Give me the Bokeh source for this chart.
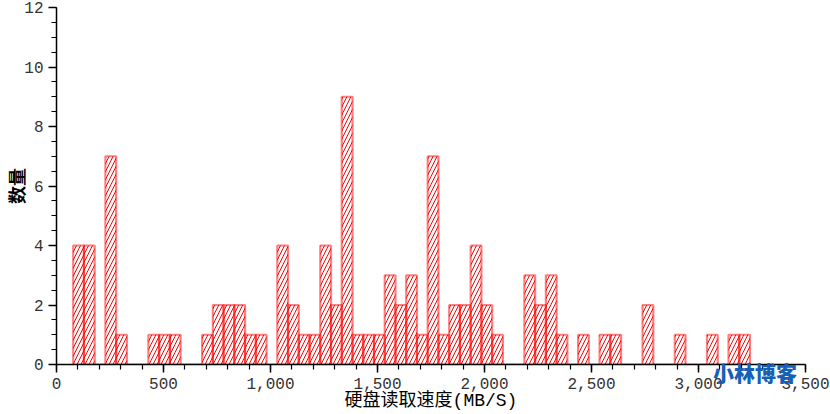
import numpy as np
from bokeh.plotting import figure
from bokeh.models import Range1d, SingleIntervalTicker, NumeralTickFormatter, ColumnDataSource, Div
from bokeh.embed import file_html
from bokeh.resources import INLINE

# histogram of disk read speeds (MB/S), 63 bins
bin_start = 78.0
bin_width = 50.2
counts = [4, 4, 0, 7, 1, 0, 0, 1, 1, 1, 0, 0, 1, 2, 2, 2, 1, 1, 0, 4, 2,
          1, 1, 4, 2, 9, 1, 1, 1, 3, 2, 3, 1, 7, 1, 2, 2, 4, 2, 1, 0, 0,
          3, 2, 3, 1, 0, 1, 0, 1, 1, 0, 0, 2, 0, 0, 1, 0, 0, 1, 0, 1, 1]
x_title = "硬盘读取速度(MB/S)"
y_title = "数量"
watermark = "小林博客"

edges = bin_start + bin_width * np.arange(len(counts) + 1)
src = ColumnDataSource(dict(left=edges[:-1], right=edges[1:],
                            top=counts, bottom=[0] * len(counts)))

p = figure(width=830, height=414, output_backend="svg", toolbar_location=None,
           x_range=Range1d(0, 3500), y_range=Range1d(0, 12),
           min_border_left=55, min_border_right=25, min_border_top=7,
           min_border_bottom=50)
p.outline_line_color = None
p.xgrid.visible = False
p.ygrid.visible = False

p.quad(left="left", right="right", top="top", bottom="bottom", source=src,
       fill_alpha=0, line_color="red", line_alpha=0.5, line_width=2.2,
       hatch_pattern="/", hatch_color="red", hatch_scale=8, hatch_weight=1)

p.xaxis.ticker = SingleIntervalTicker(interval=500, num_minor_ticks=5)
p.yaxis.ticker = SingleIntervalTicker(interval=2, num_minor_ticks=4)
p.xaxis.formatter = NumeralTickFormatter(format="0,0")
for ax in (p.xaxis, p.yaxis):
    ax.axis_line_width = 1.5
    ax.axis_line_color = "black"
    ax.major_tick_line_width = 1.5
    ax.major_tick_in = 0
    ax.major_tick_out = 8
    ax.minor_tick_in = 0
    ax.minor_tick_out = 5
    ax.minor_tick_line_width = 1.2
    ax.major_label_text_font = "Liberation Mono"
    ax.major_label_text_font_size = "16px"
    ax.major_label_text_color = "#333333"
    ax.axis_label_text_color = "black"

p.xaxis.major_label_standoff = 5
p.xaxis.axis_label = x_title
p.xaxis.axis_label_text_font = "Liberation Mono, Noto Sans CJK SC"
p.xaxis.axis_label_text_font_size = "18px"
p.xaxis.axis_label_text_font_style = "normal"
p.xaxis.axis_label_standoff = -1

p.yaxis.major_label_standoff = 5
p.yaxis.axis_label = y_title
p.yaxis.axis_label_text_font = "Noto Sans CJK SC"
p.yaxis.axis_label_text_font_size = "18px"
p.yaxis.axis_label_text_font_style = "bold"
p.yaxis.axis_label_standoff = -8

wm = Div(text=watermark, styles={
    "position": "absolute", "left": "708px", "top": "357px",
    "font-family": "Noto Sans CJK SC", "font-weight": "900",
    "font-size": "21px", "color": "#1560b8", "line-height": "1",
    "white-space": "nowrap"})

open("out.html", "w").write(file_html([p, wm], INLINE))
